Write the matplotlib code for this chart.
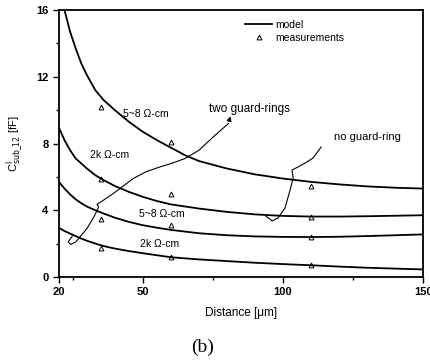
import matplotlib
matplotlib.use("Agg")
import matplotlib.pyplot as plt

plt.rcParams['font.family'] = ['Liberation Sans', 'DejaVu Sans']

# model curves (distance in um, capacitance in fF)
x_58_none = [22, 24, 26, 28, 30, 33, 36, 40, 45, 50, 55, 60, 65, 70, 80, 90, 100, 110, 120, 130, 140, 150]
c_58_none = [16.0, 14.7, 13.7, 12.8, 12.1, 11.2, 10.6, 10.0, 9.3, 8.7, 8.2, 7.75, 7.3, 6.95, 6.5, 6.15, 5.9, 5.7, 5.55, 5.43, 5.35, 5.3]

x_model = [20, 22, 24, 26, 28, 30, 33, 36, 40, 45, 50, 55, 60, 70, 80, 90, 100, 110, 120, 130, 140, 150]
c_2k_none = [8.95, 8.2, 7.6, 7.1, 6.8, 6.5, 6.1, 5.8, 5.45, 5.1, 4.8, 4.55, 4.35, 4.1, 3.9, 3.75, 3.66, 3.62, 3.62, 3.64, 3.67, 3.7]
c_58_two = [5.7, 5.3, 4.95, 4.65, 4.42, 4.22, 4.0, 3.8, 3.55, 3.3, 3.1, 2.95, 2.82, 2.62, 2.5, 2.43, 2.4, 2.39, 2.41, 2.45, 2.5, 2.55]
c_2k_two = [2.95, 2.75, 2.6, 2.45, 2.3, 2.17, 2.0, 1.85, 1.7, 1.55, 1.42, 1.3, 1.18, 1.05, 0.95, 0.85, 0.77, 0.7, 0.62, 0.55, 0.5, 0.45]

# measurements
x_meas = [35, 60, 110]
m_58_none = [10.2, 8.1, 5.45]
m_2k_none = [5.9, 5.0, 3.6]
m_58_two = [3.5, 3.1, 2.4]
m_2k_two = [1.75, 1.2, 0.72]

fig = plt.figure(figsize=(4.3, 3.62), dpi=100)
ax = fig.add_axes([0.137, 0.235, 0.847, 0.737])

ax.plot(x_58_none, c_58_none, color='black', lw=1.3, label='model')
for c in [c_2k_none, c_58_two, c_2k_two]:
    ax.plot(x_model, c, color='black', lw=1.3)

ax.plot(x_meas, m_58_none, linestyle='none', marker='^', ms=3.5, mfc='none', mec='black', mew=0.7, label='measurements')
for m in [m_2k_none, m_58_two, m_2k_two]:
    ax.plot(x_meas, m, linestyle='none', marker='^', ms=3.5, mfc='none', mec='black', mew=0.7)

# curve labels
ax.text(43, 9.8, '5~8 \u03a9-cm', fontsize=7.5, va='center')
ax.text(31, 7.3, '2k \u03a9-cm', fontsize=7.5, va='center')
ax.text(48.5, 3.75, '5~8 \u03a9-cm', fontsize=7.5, va='center')
ax.text(49, 1.95, '2k \u03a9-cm', fontsize=7.5, va='center')

# annotations
two_x = [24.8, 23.3, 24.2, 26.0, 28.0, 30.0, 32.5, 34.2, 33.6, 35.0, 39.4, 46.5, 51, 56.1, 60, 65, 70, 75.1, 80.5]
two_y = [2.45, 2.1, 1.95, 2.1, 2.5, 2.9, 3.6, 4.2, 4.35, 4.5, 5.0, 5.9, 6.3, 6.6, 6.8, 7.1, 7.6, 8.4, 9.2]
ax.plot(two_x, two_y, color='black', lw=0.8)
ax.annotate('', xy=(two_x[-1] + 1.0, two_y[-1] + 0.6), xytext=(two_x[-1], two_y[-1]),
            arrowprops=dict(arrowstyle='-|>', color='black', lw=0.8, mutation_scale=7))
ax.text(88, 10.1, 'two guard-rings', fontsize=8.5, ha='center', va='center')

no_x = [93.9, 96.1, 98.2, 100.7, 102.5, 103.6, 103.2, 104.6, 107.9, 110.7, 113.6]
no_y = [3.65, 3.36, 3.53, 4.13, 5.21, 5.93, 6.41, 6.53, 6.83, 7.13, 7.79]
ax.plot(no_x, no_y, color='black', lw=0.8)
ax.text(130, 8.4, 'no guard-ring', fontsize=8, ha='center', va='center')

ax.set_xlim(20, 150)
ax.set_ylim(0, 16)
ax.set_xticks([20, 50, 100, 150])
ax.set_xticks([25, 75, 125], minor=True)
ax.set_yticks([0, 4, 8, 12, 16])
ax.set_yticks([2, 6, 10, 14], minor=True)
ax.tick_params(which='both', direction='out', labelsize=8, width=1)
ax.tick_params(which='major', length=4)
ax.tick_params(which='minor', length=2.5)
for lab in ax.get_xticklabels() + ax.get_yticklabels():
    lab.set_fontweight('bold')
for s in ax.spines.values():
    s.set_linewidth(1.3)

ax.set_xlabel('Distance [\u03bcm]', fontsize=8.5, labelpad=7)
ax.set_ylabel(r'C$^{\rm l}_{\rm sub\_12}$ [fF]', fontsize=8, labelpad=7)

leg = ax.legend(loc='upper left', bbox_to_anchor=(0.5, 0.98), frameon=False, fontsize=7.5,
                handlelength=2.6, handletextpad=0.3, labelspacing=0.3, borderaxespad=0)

fig.text(0.47, 0.04, '(b)', fontsize=14, family='Liberation Serif', ha='center', va='center')

fig.savefig('out.png', dpi=100)
